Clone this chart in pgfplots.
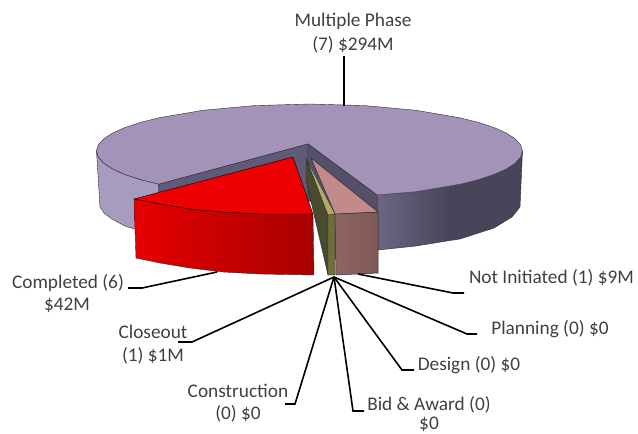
\documentclass[border=0pt]{standalone}
\usepackage{fontspec}
\setmainfont{Carlito}
\usepackage{pgfplots}
\pgfplotsset{compat=1.18}
\definecolor{pTop}{HTML}{A393B8}
\definecolor{pLeft}{HTML}{A89CBE}
\definecolor{pRightA}{HTML}{6C6683}
\definecolor{pRightB}{HTML}{49445A}
\definecolor{pInner}{HTML}{5F5A78}
\definecolor{pInnerB}{HTML}{54506A}
\definecolor{rTop}{HTML}{EE0000}
\definecolor{rA}{HTML}{E60000}
\definecolor{rB}{HTML}{A80000}
\definecolor{oDark}{HTML}{4A4A2E}
\definecolor{oMid}{HTML}{6F6F3A}
\definecolor{oTop}{HTML}{B0AC66}
\definecolor{nTop}{HTML}{C38A8A}
\definecolor{nA}{HTML}{8F6464}
\definecolor{nB}{HTML}{7E5858}
\definecolor{txt}{HTML}{404040}
\definecolor{edge}{HTML}{2A2A30}
\tikzset{
    lab/.style={font=\fontsize{19.3}{19.3}\selectfont, text=txt, inner sep=0pt, anchor=center},
    lead/.style={black, line width=1.6pt},
}
\begin{document}
\begin{tikzpicture}
\begin{axis}[
    scale only axis,
    width=638pt,
    height=434pt,
    xmin=0, xmax=638,
    ymin=0, ymax=434,
    y dir=reverse,
    hide axis,
    clip=false,
    every axis plot/.append style={forget plot},
]
% keeps the picture at the full frame, hide axis drops the box
\addplot[draw=none] coordinates {(0,0) (638,434)};
% outer walls
\addplot[left color=pLeft, right color=pLeft, draw=edge, line width=0.4pt] coordinates {
    (96.5,151) (98.3,157.1) (103.8,163.2) (112.7,169) (125,174.5) (140.5,179.6) (158.9,184.2)
    (158.9,236) (140.5,231) (125,226) (112,219) (104,213) (100,207)
} --cycle;
\addplot[fill=pRightB, draw=none] coordinates {
    (449.5,186) (460.1,184.2) (478.5,179.6) (494,174.5) (506.3,169) (515.2,163.2) (520.7,157.1) (522.5,151)
    (520,207) (512,217) (494,228) (460,239) (449.5,240.5)
} --cycle;
\addplot[left color=pRightA, right color=pRightB, draw=none] coordinates {
    (377,195) (416,191.7) (450,186) (450,240.5) (416,246) (378,250)
} --cycle;
\addplot[edge, line width=0.4pt] coordinates {(522.5,151) (520,207) (512,217) (494,228) (460,239) (450,240.5) (416,246) (378,250)};
% Multiple Phase top
\addplot[fill=pTop, draw=edge, line width=0.4pt] coordinates {
    (308,144) (377,195) (416,191.7) (460.1,184.2) (478.5,179.6) (494,174.5) (506.3,169) (515.2,163.2) (520.7,157.1)
    (522.5,151) (520.7,144.9) (515.2,138.8) (506.3,133) (494,127.5) (478.5,122.4) (460.1,117.8) (416,110.3)
    (364.6,105.6) (309.5,104) (254.4,105.6) (203,110.3) (158.9,117.8) (140.5,122.4) (125,127.5) (112.7,133)
    (103.8,138.8) (98.3,144.9) (96.5,151) (98.3,157.1) (103.8,163.2) (112.7,169) (125,174.5) (140.5,179.6) (158.9,184.2)
} --cycle;
% inner walls of the notch
\addplot[fill=pInner, draw=edge, line width=0.4pt] coordinates {(158.9,184.2) (308,144) (308,200) (158.9,236)} --cycle;
\addplot[fill=pInnerB, draw=edge, line width=0.4pt] coordinates {(308,144) (377,195) (378,250) (308,200)} --cycle;
% Completed
\addplot[left color=rA, right color=rB, draw=edge, line width=0.4pt] coordinates {
    (134,199) (160,204) (190,209) (223,212) (260,214) (313,214) (314,275) (260,274) (223,272) (190,268) (160,263) (136,258)
} --cycle;
\addplot[fill=rTop, draw=black, line width=0.4pt] coordinates {
    (293,157) (313,214) (260,214) (223,212) (190,209) (160,204) (134,199)
} --cycle;
% Closeout
\addplot[fill=oDark, draw=edge, line width=0.4pt] coordinates {(306,160) (306,180) (328,275) (329,215)} --cycle;
\addplot[fill=oMid, draw=edge, line width=0.4pt] coordinates {(328,215) (335,214) (335,275) (328,275)} --cycle;
\addplot[fill=oTop, draw=edge, line width=0.4pt] coordinates {(306,158) (335,214) (328,215)} --cycle;
% Not Initiated
\addplot[left color=nA, right color=nB, draw=edge, line width=0.5pt] coordinates {(335,214) (378,212) (378,273) (336,275)} --cycle;
\addplot[fill=nTop, draw=edge, line width=0.5pt] coordinates {(311,158) (378,212) (335,214)} --cycle;
% leader lines
\addplot[lead] coordinates {(344,106) (344,56)};
\addplot[lead] coordinates {(358,274) (453,293) (464,293)};
\addplot[lead] coordinates {(334,277) (467,334) (477,334)};
\addplot[lead] coordinates {(334,277) (402,370) (414,370)};
\addplot[lead] coordinates {(334,277) (353,411) (364,411)};
\addplot[lead] coordinates {(334,277) (295,404) (285,404)};
\addplot[lead] coordinates {(334,277) (192,342) (178,342)};
\addplot[lead] coordinates {(217,272) (142,288) (128,288)};
% labels
\node[lab] at (axis cs:353,21) {Multiple Phase};
\node[lab] at (axis cs:353,45) {(7) \$294M};
\node[lab] at (axis cs:68,283) {Completed (6)};
\node[lab] at (axis cs:67,305) {\$42M};
\node[lab] at (axis cs:153,332) {Closeout};
\node[lab] at (axis cs:153,356) {(1) \$1M};
\node[lab] at (axis cs:238,391) {Construction};
\node[lab] at (axis cs:238,414) {(0) \$0};
\node[lab] at (axis cs:551.5,278) {Not Initiated (1) \$9M};
\node[lab] at (axis cs:550,329) {Planning (0) \$0};
\node[lab] at (axis cs:469,365) {Design (0) \$0};
\node[lab] at (axis cs:429,405) {Bid \& Award (0)};
\node[lab] at (axis cs:429,424) {\$0};
\end{axis}
\end{tikzpicture}
\end{document}
